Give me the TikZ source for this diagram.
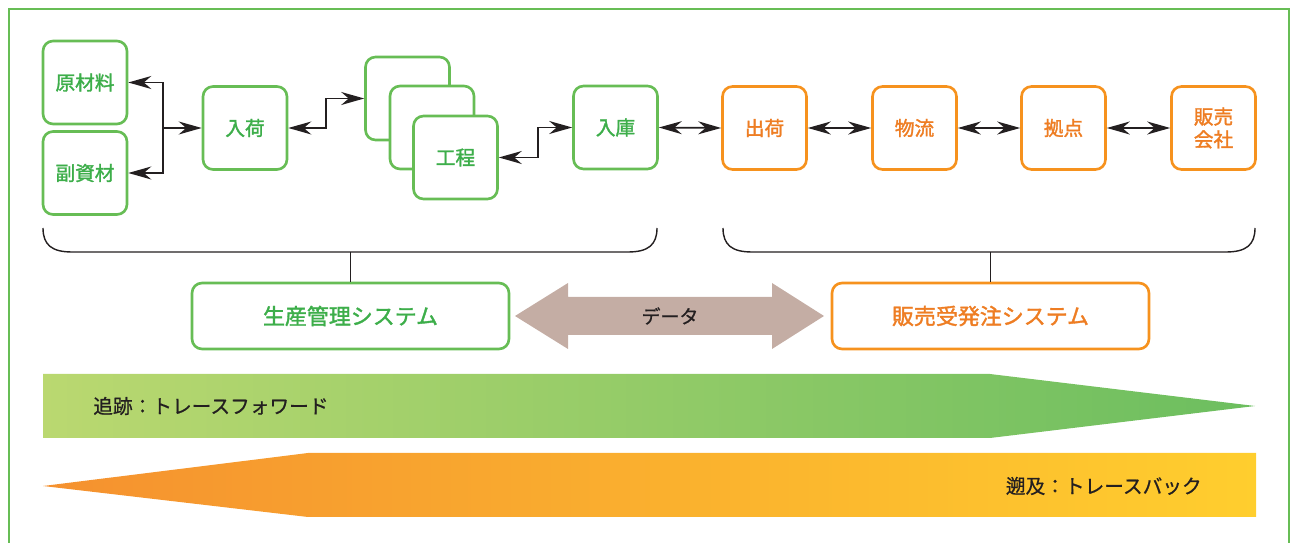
\documentclass[tikz,border=0pt]{standalone}
\usepackage{fontspec}
\setmainfont{Noto Sans CJK JP}
\newfontfamily\jpmed{Noto Sans CJK JP}[FakeBold=1.6]
\newfontfamily\jpsemi{Noto Sans CJK JP}[FakeBold=0.7]
\usetikzlibrary{arrows.meta}

\definecolor{grn}{HTML}{67BD55}
\definecolor{grntxt}{HTML}{3DAE4A}
\definecolor{org}{HTML}{F6921E}
\definecolor{orgtxt}{HTML}{EE7D23}
\definecolor{datafill}{HTML}{C4ADA4}
\definecolor{fwdL}{HTML}{BAD870}
\definecolor{fwdR}{HTML}{6CBE5F}
\definecolor{backL}{HTML}{F5912F}
\definecolor{backR}{HTML}{FFCE2E}
\definecolor{ink}{HTML}{231F20}

\tikzset{
    ar/.tip={Stealth[length=4.6mm,width=2.6mm,inset=1.5mm]},
    gbox/.style={draw=grn, line width=1.5pt, rounded corners=0.2cm, fill=white,
        minimum width=1.68cm, minimum height=1.66cm, inner sep=0pt, align=center,
        text=grntxt, font=\fontsize{11.2}{13}\selectfont\jpmed},
    obox/.style={gbox, draw=org, text=orgtxt},
    sysg/.style={gbox, minimum width=6.34cm, minimum height=1.32cm,
        font=\fontsize{12.5}{15}\selectfont\jpmed},
    syso/.style={sysg, draw=org, text=orgtxt},
    link/.style={line width=1pt, ink},
    brk/.style={line width=0.8pt, ink},
    bandtext/.style={text=ink, font=\fontsize{11.2}{13}\selectfont\jpsemi, inner sep=0pt},
}

\begin{document}
\begin{tikzpicture}[x=0.02cm, y=-0.02cm]
    \useasboundingbox (0,0) rectangle (1295,543);
    % Frame
    \draw[grn, line width=1.1pt] (9,543) -- (9,9) -- (1289,9) -- (1289,543);

    % Production side
    \node[gbox] (raw) at (85,82.5) {原材料};
    \node[gbox] (sub) at (85,173) {副資材};
    \node[gbox] (nyuka) at (245,128) {入荷};
    \node[gbox] (proc1) at (407.5,98.5) {};
    \node[gbox] (proc2) at (432,127.5) {};
    \node[gbox] (kotei) at (455.5,157.5) {工程};
    \node[gbox] (nyuko) at (615.5,127.5) {入庫};

    % Sales side
    \foreach \name/\xx/\txt in {shukka/764.5/出荷, butsuryu/914.5/物流, kyoten/1063.5/拠点, hanbai/1213.5/{販売\\会社}} {
        \node[obox] (\name) at (\xx,128) {\txt};
    }

    % Connectors
    \coordinate (jn) at (163,128);
    \draw[link, ar-] (raw.east) -| (jn);
    \draw[link, ar-] (sub.east) -| (jn);
    \draw[link, -ar] (jn) -- (nyuka.west);
    \draw[link, ar-ar] (nyuka.east) -- ++(38,0) |- (proc1.west);
    \draw[link, ar-ar] (kotei.east) -- ++(39,0) |- (nyuko.west);
    \foreach \a/\b in {nyuko/shukka, shukka/butsuryu, butsuryu/kyoten, kyoten/hanbai} {
        \draw[link, ar-ar] (\a.east) -- (\b.west);
    }

    % Systems
    \node[sysg] (seisan) at (350.5,316) {生産管理システム};
    \node[syso] (juhatchu) at (990.5,316) {販売受発注システム};

    % Brackets
    \draw[brk] (43,228) .. controls (43,245) and (52,252) .. (72,252) -- (628,252)
        .. controls (648,252) and (657,245) .. (657,228);
    \draw[brk] (723,228) .. controls (723,245) and (732,252) .. (752,252) -- (1226,252)
        .. controls (1246,252) and (1255,245) .. (1255,228);
    \coordinate (stemL) at (350.5,252);
    \coordinate (stemR) at (990.5,252);
    \draw[brk] (stemL) -- (seisan.north);
    \draw[brk] (stemR) -- (juhatchu.north);

    % Data arrow
    \fill[datafill] (515,316) -- (568,283) -- (568,297) -- (772,297) -- (772,283) -- (824,316)
        -- (772,349) -- (772,335) -- (568,335) -- (568,349) -- cycle;
    \node[text=ink, font=\fontsize{10.8}{13}\selectfont\jpsemi] (data) at (670,316) {データ};

    % Trace bands
    \shade[left color=fwdL, right color=fwdR] (43,374) -- (990,374) -- (1255,406)
        -- (990,438) -- (43,438) -- cycle;
    \node[bandtext, anchor=west] (fwd) at (93,406) {追跡：トレースフォワード};
    \shade[left color=backL, right color=backR] (43,486) -- (308,453) -- (1256,453)
        -- (1256,517) -- (308,517) -- cycle;
    \node[bandtext, anchor=east] (back) at (1202,486) {遡及：トレースバック};
\end{tikzpicture}
\end{document}
